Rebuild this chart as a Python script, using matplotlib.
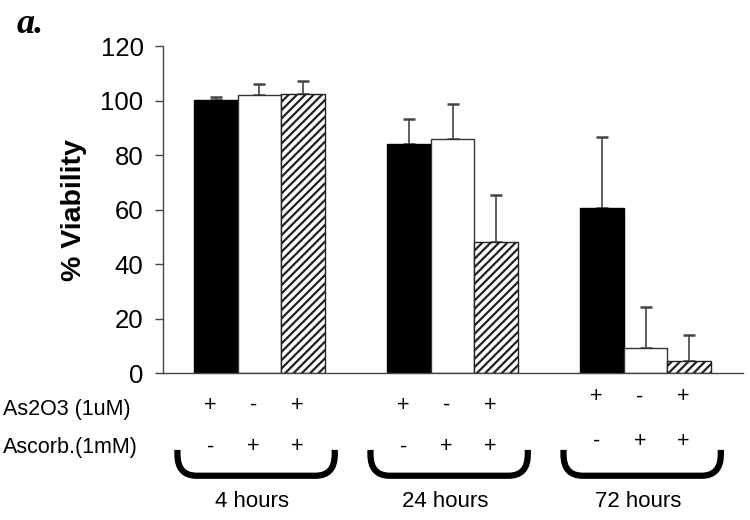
import numpy as np
import matplotlib
matplotlib.use("Agg")
import matplotlib.pyplot as plt
from matplotlib.path import Path
from matplotlib.patches import PathPatch

plt.rcParams['font.family'] = ['Liberation Sans', 'DejaVu Sans']
plt.rcParams['hatch.linewidth'] = 1.6

# --- Data ---
groups = ["4 hours", "24 hours", "72 hours"]
as2o3_only = [100.2, 84.0, 60.5]      # black
as2o3_only_err = [1.1, 9.1, 26.2]
ascorb_only = [101.9, 85.8, 9.4]      # white
ascorb_only_err = [4.2, 12.8, 15.0]
both = [102.3, 48.0, 4.6]             # hatched
both_err = [4.7, 17.4, 9.4]

as2o3_signs = ["+", "-", "+"]
ascorb_signs = ["-", "+", "+"]

# --- Figure ---
fig = plt.figure(figsize=(7.5, 5.2), dpi=100)
ax = fig.add_axes([0.2173, 0.2821, 0.7734, 0.6294])

x = np.arange(len(groups))
w = 0.225
series = [
    (as2o3_only, as2o3_only_err, dict(color="black", edgecolor="black")),
    (ascorb_only, ascorb_only_err, dict(color="white", edgecolor="#333333")),
    (both, both_err, dict(color="white", edgecolor="#222222", hatch="////")),
]
offsets = [-w, 0, w]
for (vals, errs, style), off in zip(series, offsets):
    ax.bar(x + off, vals, width=w, linewidth=1.0, zorder=2, **style)
    ax.errorbar(x + off, vals, yerr=[np.zeros(len(errs)), errs], fmt="none",
                ecolor="#444444", elinewidth=1.2, capsize=4, capthick=1.8, zorder=1)

ax.set_xlim(-0.5, 2.505)
ax.set_ylim(0, 120)
ax.set_yticks(range(0, 121, 20))
ax.set_xticks([])
for s in ["top", "right"]:
    ax.spines[s].set_visible(False)
for s in ["left", "bottom"]:
    ax.spines[s].set_color("#444444")
    ax.spines[s].set_linewidth(1.0)
ax.tick_params(axis="y", direction="out", length=6, width=1.0, color="#444444",
               labelsize=18.5, pad=8)
ax.set_ylabel("% Viability", fontsize=20.5, fontweight="bold")
ax.yaxis.set_label_coords(-0.131, 0.5)

# --- Treatment table below the axis ---
tr = ax.get_xaxis_transform()
row1_y = [-0.097, -0.097, -0.072]
row2_y = [-0.225, -0.225, -0.207]
for g in range(len(groups)):
    for off, s1, s2 in zip(offsets, as2o3_signs, ascorb_signs):
        ax.text(x[g] + off - 0.03, row1_y[g], s1, transform=tr, ha="center",
                va="center", fontsize=15.5, clip_on=False)
        ax.text(x[g] + off - 0.03, row2_y[g], s2, transform=tr, ha="center",
                va="center", fontsize=15.5, clip_on=False)
    ax.text(x[g] - 0.04, -0.393, groups[g], transform=tr, ha="center",
            va="center", fontsize=16, clip_on=False)

    # bracket under each group
    x0, x1 = x[g] - 0.425, x[g] + 0.39
    yt, yb = -0.234, -0.313
    rx, ry = 0.1, 0.065
    verts = [(x0, yt), (x0, yb + ry), (x0, yb), (x0 + rx, yb),
             (x1 - rx, yb), (x1, yb), (x1, yb + ry), (x1, yt)]
    codes = [Path.MOVETO, Path.LINETO, Path.CURVE3, Path.CURVE3,
             Path.LINETO, Path.CURVE3, Path.CURVE3, Path.LINETO]
    ax.add_patch(PathPatch(Path(verts, codes), transform=tr, fill=False,
                           lw=4.5, edgecolor="black", clip_on=False,
                           capstyle="butt", joinstyle="round"))

fig.text(0.004, 1 - 410 / 520, "As2O3 (1uM)", ha="left", va="center", fontsize=15.5)
fig.text(0.004, 1 - 448 / 520, "Ascorb.(1mM)", ha="left", va="center", fontsize=15.5)

fig.text(0.022, 1 - 33 / 520, "a.", family="Liberation Serif", fontsize=26,
         fontweight="bold", fontstyle="italic", va="baseline")

fig.savefig("out.png", dpi=100)
